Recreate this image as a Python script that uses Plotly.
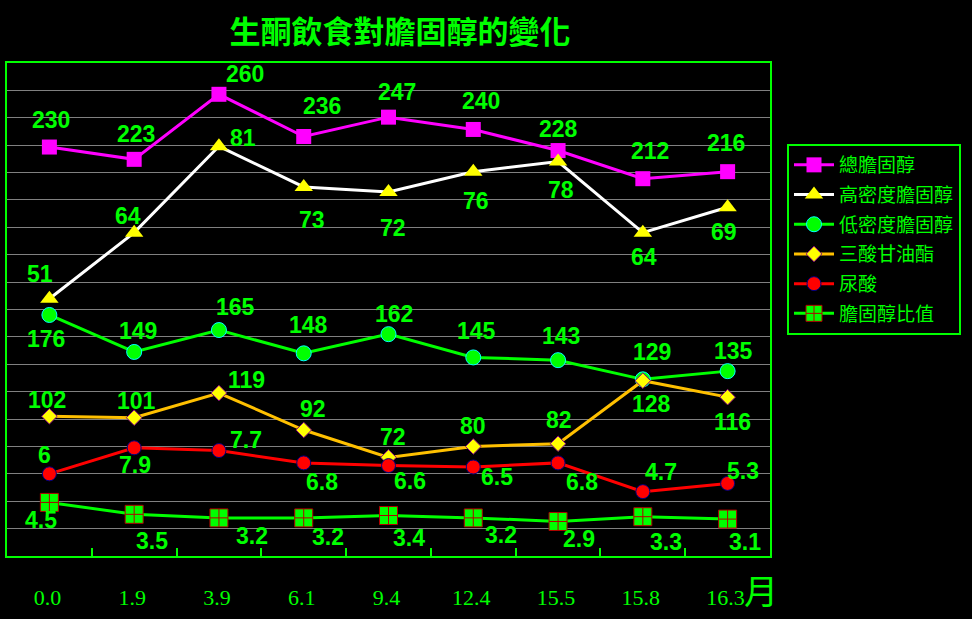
import plotly.graph_objects as go

# ---------------- data ----------------
months = ["0.0", "1.9", "3.9", "6.1", "9.4", "12.4", "15.5", "15.8", "16.3"]
total_chol = [230, 223, 260, 236, 247, 240, 228, 212, 216]
hdl = [51, 64, 81, 73, 72, 76, 78, 64, 69]
ldl = [176, 149, 165, 148, 162, 145, 143, 129, 135]
tg = [102, 101, 119, 92, 72, 80, 82, 128, 116]
uric = [6, 7.9, 7.7, 6.8, 6.6, 6.5, 6.8, 4.7, 5.3]
ratio = [4.5, 3.5, 3.2, 3.2, 3.4, 3.2, 2.9, 3.3, 3.1]
series_names = ["總膽固醇", "高密度膽固醇", "低密度膽固醇", "三酸甘油酯", "尿酸", "膽固醇比值"]
chart_title = "生酮飲食對膽固醇的變化"
x_unit = "月"

# ---------------- label offsets (px; dy positive = down) ----------------
off_total = [(2, -27), (2, -25), (26, -20), (18, -30), (8, -25), (8, -28), (0, -22), (7, -28), (-2, -29)]
off_hdl = [(-9, -25), (-6, -17), (24, -8), (8, 33), (4, 36), (3, 29), (3, 28), (1, 24), (-4, 25)]
off_ldl = [(-3, 24), (4, -21), (17, -23), (5, -28), (5, -20), (3, -26), (3, -24), (9, -27), (6, -20)]
off_tg = [(-2, -16), (2, -17), (28, -13), (9, -21), (4, -20), (0, -20), (1, -24), (9, 23), (5, 25)]
off_uric = [(-5, -19), (1, 17), (27, -11), (18, 19), (21, 15), (24, 10), (24, 19), (18, -20), (15, -12)]
off_ratio = [(-8, 18), (18, 27), (33, 18), (24, 19), (20, 22), (28, 17), (21, 18), (23, 25), (17, 23)]

GREEN = "#00FF00"

styles = [
    dict(vals=total_chol, off=off_total, axis="y2", line="#FF00FF", symbol="square", size=15,
         mcolor="#FF00FF", mline="#FF00FF", mlw=0),
    dict(vals=hdl, off=off_hdl, axis="y3", line="#FFFFFF", symbol="triangle-up", size=16,
         mcolor="#FFFF00", mline="#FFFF00", mlw=0),
    dict(vals=ldl, off=off_ldl, axis="y", line=GREEN, symbol="circle", size=15,
         mcolor=GREEN, mline="#00FFFF", mlw=1),
    dict(vals=tg, off=off_tg, axis="y", line="#FFC000", symbol="diamond", size=12,
         mcolor="#FFFF00", mline="#800080", mlw=1),
    dict(vals=uric, off=off_uric, axis="y4", line="#FF0000", symbol="circle", size=14,
         mcolor="#FF0000", mline="#000080", mlw=1),
    dict(vals=ratio, off=off_ratio, axis="y5", line=GREEN, symbol="square-cross", size=18,
         mcolor=GREEN, mline="#B00000", mlw=1),
]

fig = go.Figure()
annotations = []
for i, (name, st) in enumerate(zip(series_names, styles)):
    fig.add_trace(go.Scatter(
        x=months, y=st["vals"], name=name, mode="lines+markers",
        yaxis=st["axis"], legendgroup="g%d" % i,
        line=dict(color=st["line"], width=3),
        marker=dict(symbol=st["symbol"], size=st["size"], color=st["mcolor"],
                    line=dict(color=st["mline"], width=st["mlw"])),
    ))
    yref = "y" if st["axis"] == "y" else st["axis"]
    # category axis: annotations are placed by category index
    for ci, (yv, (dx, dy)) in enumerate(zip(st["vals"], st["off"])):
        annotations.append(dict(
            x=ci, y=yv, xref="x", yref=yref, text=str(yv), showarrow=False,
            xshift=dx, yshift=-dy,
            font=dict(family="Liberation Sans, Arial", size=23, color=GREEN, weight="bold"),
        ))

annotations.append(dict(
    x=(761 - 7) / 763, y=(556 - 589) / 493, xref="paper", yref="paper",
    text=x_unit, showarrow=False, xanchor="center", yanchor="middle",
    font=dict(family="Noto Sans CJK TC", size=34, color=GREEN),
))

fig.update_layout(
    width=972, height=619, autosize=False,
    paper_bgcolor="black", plot_bgcolor="black",
    margin=dict(l=7, r=202, t=63, b=63),
    title=dict(text=chart_title, x=400 / 972, xanchor="center", y=1 - 32 / 619, yanchor="middle",
               font=dict(family="Noto Sans CJK TC", size=31, color=GREEN, weight="bold")),
    showlegend=True,
    legend=dict(x=(787 - 7) / 763, y=(556 - 144) / 493, xanchor="left", yanchor="top",
                bgcolor="black", bordercolor=GREEN, borderwidth=2,
                font=dict(family="Noto Sans CJK TC", size=19, color=GREEN),
                tracegroupgap=2, traceorder="grouped", itemwidth=40),
    xaxis=dict(type="category", range=[-0.5, 8.5], tickson="boundaries",
               ticks="inside", ticklen=8, tickwidth=2, tickcolor=GREEN,
               showline=True, linecolor=GREEN, linewidth=2, mirror=True, showgrid=False,
               tickfont=dict(family="Liberation Serif", size=22, color=GREEN),
               ticklabelstandoff=21, ticklabelshift=-2),
    yaxis=dict(range=[0, 360], tick0=0, dtick=20, showgrid=True, gridcolor="#808080", gridwidth=1,
               showticklabels=False, ticks="", showline=True, linecolor=GREEN, linewidth=2,
               mirror=True, zeroline=False),
    yaxis2=dict(range=[-2.6, 277.8], overlaying="y", visible=False),
    yaxis3=dict(range=[0.35, 97.4], overlaying="y", visible=False),
    yaxis4=dict(range=[0, 36], overlaying="y", visible=False),
    yaxis5=dict(range=[0, 41.4], overlaying="y", visible=False),
    annotations=annotations,
)

fig.write_html("out.html")
